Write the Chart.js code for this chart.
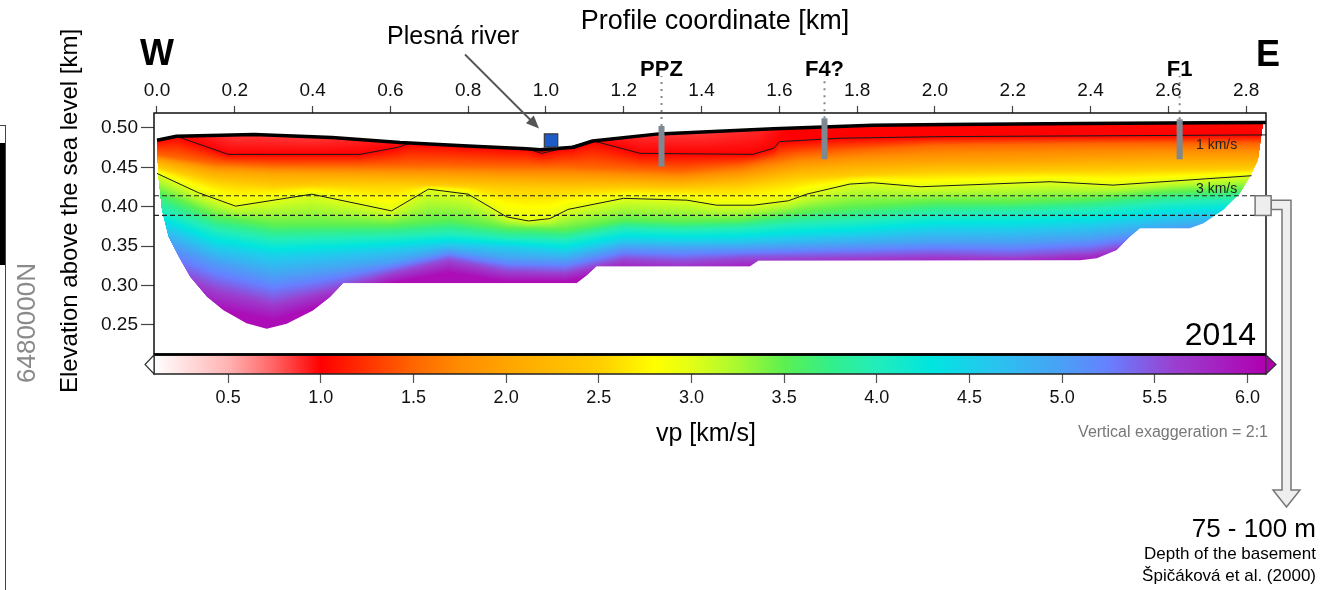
<!DOCTYPE html>
<html>
<head>
<meta charset="utf-8">
<script src="https://cdn.jsdelivr.net/npm/chart.js@4.4.1/dist/chart.umd.min.js"></script>
<style>
  html, body { margin: 0; padding: 0; background: #fff; }
  #wrap { position: relative; width: 1322px; height: 590px; }
  #wrap canvas { position: absolute; left: 0; top: 0; }
</style>
</head>
<body>
<div id="wrap">
  <canvas id="section" width="1322" height="590"></canvas>
  <canvas id="scale" width="1322" height="590"></canvas>
</div>
<script>
// === axes ===
const xTicks = [0.0, 0.2, 0.4, 0.6, 0.8, 1.0, 1.2, 1.4, 1.6, 1.8, 2.0, 2.2, 2.4, 2.6, 2.8];
const yTicks = [0.25, 0.30, 0.35, 0.40, 0.45, 0.50];
const vpTicks = [0.5, 1.0, 1.5, 2.0, 2.5, 3.0, 3.5, 4.0, 4.5, 5.0, 5.5, 6.0];
const vpRange = [0.1, 6.1];

// === topography and model outline (km, km a.s.l.) ===
const surfaceX = [0, 0.05, 0.25, 0.45, 0.625, 0.8, 0.95, 0.985, 1.07, 1.12, 1.29, 1.585, 1.84, 2.03, 2.38, 2.7, 2.851];
const surfaceY = [0.4845, 0.4895, 0.4918, 0.488, 0.4815, 0.4772, 0.4735, 0.4725, 0.4755, 0.4835, 0.4925, 0.499, 0.5035, 0.5045, 0.5058, 0.5065, 0.507];
const surfaceVelX = [0, 0.06, 0.2, 0.4, 0.6, 1.12, 1.25, 1.4, 1.55, 1.62, 2.851];
const surfaceVel = [1.05, 1.0, 0.85, 0.85, 0.95, 1.0, 0.88, 0.85, 0.9, 1.0, 1.05];

const bottomX = [0, 0.001, 0.003, 0.012, 0.029, 0.055, 0.085, 0.128, 0.17, 0.23, 0.282, 0.333, 0.401, 0.445, 0.479,
  1.079, 1.105, 1.13, 1.524, 1.546, 2.373, 2.416, 2.467, 2.501, 2.527, 2.655, 2.69, 2.741, 2.784, 2.81, 2.831, 2.844];
const bottomY = [0.484, 0.458, 0.438, 0.396, 0.362, 0.337, 0.311, 0.2859, 0.269, 0.2522, 0.2452, 0.2515, 0.2684, 0.2854, 0.3032,
  0.3032, 0.313, 0.3244, 0.3244, 0.3316, 0.3322, 0.3347, 0.345, 0.362, 0.3727, 0.3727, 0.379, 0.396, 0.417, 0.438, 0.4594, 0.506];

// === contours drawn on the section ===
const contour1X = [0.05, 0.183, 0.522, 0.62, 0.65, 0.95, 0.989, 1.044, 1.122, 1.242, 1.532, 1.585, 1.601, 1.756, 2.013, 2.851];
const contour1Y = [0.4895, 0.4665, 0.4665, 0.4755, 0.4808, 0.4738, 0.4678, 0.4742, 0.4835, 0.4678, 0.4665, 0.4743, 0.4827, 0.487, 0.489, 0.4912];
const contour3X = [0.0, 0.106, 0.202, 0.398, 0.603, 0.698, 0.80, 0.899, 0.955, 1.01, 1.057, 1.199, 1.362, 1.439, 1.533,
  1.623, 1.67, 1.781, 1.84, 1.962, 2.296, 2.458, 2.814];
const contour3Y = [0.4423, 0.418, 0.4008, 0.416, 0.3948, 0.4224, 0.416, 0.3872, 0.382, 0.385, 0.3967, 0.4107, 0.4084, 0.402, 0.402,
  0.4076, 0.416, 0.4288, 0.4305, 0.4254, 0.4318, 0.4275, 0.4394];

// === velocity isolines of the colour field (elevation where vp reaches the level) ===
const fieldX = [0, 0.15, 0.3, 0.45, 0.6, 0.75, 0.9, 1.05, 1.2, 1.35, 1.5, 1.65, 1.8, 2.0, 2.2, 2.4, 2.6, 2.85];
const vp15 = [0.466, 0.455, 0.452, 0.452, 0.452, 0.452, 0.451, 0.451, 0.448, 0.445, 0.452, 0.466, 0.472, 0.478, 0.479, 0.480, 0.480, 0.480];
const vp20 = [0.459, 0.445, 0.442, 0.441, 0.440, 0.439, 0.437, 0.436, 0.435, 0.433, 0.438, 0.450, 0.455, 0.457, 0.458, 0.460, 0.462, 0.462];
const vp25 = [0.450, 0.432, 0.426, 0.428, 0.428, 0.427, 0.424, 0.423, 0.424, 0.423, 0.426, 0.436, 0.440, 0.444, 0.445, 0.446, 0.447, 0.448];
const vp35 = [0.420, 0.388, 0.377, 0.377, 0.377, 0.383, 0.373, 0.371, 0.383, 0.381, 0.383, 0.393, 0.400, 0.406, 0.406, 0.410, 0.419, 0.423];
const vp40 = [0.398, 0.370, 0.358, 0.360, 0.362, 0.366, 0.360, 0.358, 0.372, 0.370, 0.372, 0.378, 0.382, 0.390, 0.392, 0.396, 0.405, 0.410];
const vp45 = [0.380, 0.350, 0.338, 0.342, 0.347, 0.353, 0.350, 0.344, 0.358, 0.357, 0.358, 0.362, 0.365, 0.372, 0.373, 0.378, 0.388, 0.395];
const vp50 = [0.360, 0.330, 0.312, 0.320, 0.330, 0.344, 0.334, 0.332, 0.348, 0.347, 0.348, 0.350, 0.352, 0.355, 0.355, 0.360, 0.372, 0.380];
const vp55 = [0.330, 0.300, 0.282, 0.298, 0.317, 0.334, 0.320, 0.318, 0.335, 0.332, 0.336, 0.337, 0.338, 0.340, 0.338, 0.343, 0.360, 0.365];
const vp60 = [0.300, 0.270, 0.256, 0.278, 0.303, 0.316, 0.305, 0.305, 0.318, 0.312, 0.318, 0.320, 0.322, 0.325, 0.325, 0.330, 0.345, 0.350];

// === annotations ===
const faultNames = ['PPZ', 'F4?', 'F1'];
const faultX = [1.297, 1.716, 2.629];
const faultTop = [0.5025, 0.5123, 0.511];
const faultBase = [0.4508, 0.4602, 0.4602];
const faultDotTop = 0.566;
const riverX = 1.013;
const riverY = 0.4841;
const basementY = [0.414, 0.389]; // 75 - 100 m below surface
const basementEndX = 2.823;

// colour scale (vp km/s -> colour)
const cmapVel = [0.1, 0.5, 0.75, 1.0, 1.25, 1.5, 1.75, 2.0, 2.25, 2.5, 2.8, 3.0, 3.25, 3.5, 3.75, 4.0, 4.3, 4.6, 5.0, 5.25, 5.6, 6.1];
const cmapHex = ['#ffffff', '#ffb3b3', '#ff6262', '#ff0000', '#ff3300', '#ff6600', '#ff8c00', '#ffa500', '#ffb900', '#ffcd00',
  '#ffff00', '#e2ff16', '#a8f930', '#5cf050', '#33ef8a', '#22edba', '#00e5e0', '#25c7ee', '#4aa0f5', '#6680ff', '#9a40d0', '#b000b0'];

const FONT = '"Liberation Sans", Arial, Helvetica, sans-serif';
Chart.defaults.font.family = FONT;

const cmapRgb = cmapHex.map(h => [parseInt(h.slice(1, 3), 16), parseInt(h.slice(3, 5), 16), parseInt(h.slice(5, 7), 16)]);

function interp(xs, ys, v) {
  const n = xs.length - 1;
  if (v <= xs[0]) return ys[0];
  if (v >= xs[n]) return ys[n];
  let i = 1;
  while (xs[i] < v) i++;
  const t = (v - xs[i - 1]) / (xs[i] - xs[i - 1]);
  return ys[i - 1] + t * (ys[i] - ys[i - 1]);
}

function colorFor(v) {
  const n = cmapVel.length - 1;
  if (v <= cmapVel[0]) return cmapRgb[0];
  if (v >= cmapVel[n]) return cmapRgb[n];
  let i = 1;
  while (cmapVel[i] < v) i++;
  const t = (v - cmapVel[i - 1]) / (cmapVel[i] - cmapVel[i - 1]);
  const a = cmapRgb[i - 1], b = cmapRgb[i];
  return [a[0] + t * (b[0] - a[0]), a[1] + t * (b[1] - a[1]), a[2] + t * (b[2] - a[2])];
}

const pts = (xs, ys) => xs.map((v, i) => ({ x: v, y: ys[i] }));

function txt(ctx, s, x, y, font, opt = {}) {
  ctx.save();
  ctx.font = font;
  ctx.fillStyle = opt.color || '#000';
  ctx.textAlign = opt.align || 'center';
  ctx.textBaseline = opt.base || 'alphabetic';
  ctx.translate(x, y);
  if (opt.rot) ctx.rotate(opt.rot);
  ctx.fillText(s, 0, 0);
  ctx.restore();
}

// ---- colour field, painted column by column from the isolines ----
const isolines = [
  [contour1X, contour1Y, 1.0], [fieldX, vp15, 1.5], [fieldX, vp20, 2.0], [fieldX, vp25, 2.5],
  [contour3X, contour3Y, 3.0], [fieldX, vp35, 3.5], [fieldX, vp40, 4.0], [fieldX, vp45, 4.5],
  [fieldX, vp50, 5.0], [fieldX, vp55, 5.5], [fieldX, vp60, 6.0]
];

const fieldPlugin = {
  id: 'field',
  beforeDatasetsDraw(chart) {
    const { ctx, chartArea: a, scales: { x, y } } = chart;
    const w = Math.round(a.right - a.left), h = Math.round(a.bottom - a.top);
    const off = document.createElement('canvas');
    off.width = w; off.height = h;
    const octx = off.getContext('2d');
    const img = octx.createImageData(w, h);
    for (let i = 0; i < w; i++) {
      const xv = x.getValueForPixel(a.left + i + 0.5);
      if (xv < bottomX[0] || xv > bottomX[bottomX.length - 1]) continue;
      const top = interp(surfaceX, surfaceY, xv);
      const bot = interp(bottomX, bottomY, xv);
      if (bot >= top) continue;
      const prof = [[top, interp(surfaceVelX, surfaceVel, xv)]];
      for (const [ax, ay, v] of isolines) {
        let e = interp(ax, ay, xv);
        const last = prof[prof.length - 1][0];
        if (e > last - 1e-5) e = last - 1e-5;
        prof.push([e, v]);
      }
      const yTop = y.getPixelForValue(top), yBot = y.getPixelForValue(bot);
      for (let py = Math.floor(yTop); py < Math.ceil(yBot); py++) {
        const j = py - Math.round(a.top);
        if (j < 0 || j >= h) continue;
        let cover = 1;
        if (py + 1 > yBot) cover = yBot - py;
        if (py < yTop) cover = Math.min(cover, py + 1 - yTop);
        const ev = y.getValueForPixel(py + 0.5);
        let vel = prof[prof.length - 1][1];
        if (ev >= prof[0][0]) vel = prof[0][1];
        else {
          for (let k = 1; k < prof.length; k++) {
            if (ev >= prof[k][0]) {
              const t = (prof[k - 1][0] - ev) / (prof[k - 1][0] - prof[k][0]);
              vel = prof[k - 1][1] + t * (prof[k][1] - prof[k - 1][1]);
              break;
            }
          }
        }
        const c = colorFor(vel);
        const idx = (j * w + i) * 4;
        img.data[idx] = c[0]; img.data[idx + 1] = c[1]; img.data[idx + 2] = c[2];
        img.data[idx + 3] = Math.round(255 * Math.max(0, Math.min(1, cover)));
      }
    }
    octx.putImageData(img, 0, 0);
    ctx.drawImage(off, Math.round(a.left), Math.round(a.top));
  }
};

// ---- frame, labels and the other notes ----
const notesPlugin = {
  id: 'notes',
  afterDraw(chart) {
    const { ctx, chartArea: a, scales: { x, y } } = chart;
    ctx.save();
    ctx.strokeStyle = '#111';
    ctx.lineWidth = 1.5;
    ctx.strokeRect(a.left, a.top, a.right - a.left, a.bottom - a.top);

    txt(ctx, 'Profile coordinate [km]', 715, 29, '27px ' + FONT);
    txt(ctx, 'Elevation above the sea level [km]', 70, 211, '24px ' + FONT, { base: 'middle', rot: -Math.PI / 2 });
    txt(ctx, 'W', 157, 65, 'bold 36px ' + FONT);
    txt(ctx, 'E', 1268, 66, 'bold 36px ' + FONT);

    faultNames.forEach((n, i) => txt(ctx, n, x.getPixelForValue(faultX[i]), 76, 'bold 22px ' + FONT));

    // Plesná river + arrow
    const rx = x.getPixelForValue(riverX), ry = y.getPixelForValue(riverY);
    txt(ctx, 'Plesná river', 453, 44, '25px ' + FONT);
    const sx = rx - 86, sy = ry - 86, ex = rx - 12, ey = ry - 12;
    ctx.strokeStyle = '#555';
    ctx.fillStyle = '#555';
    ctx.lineWidth = 1.8;
    ctx.beginPath(); ctx.moveTo(sx, sy); ctx.lineTo(ex - 8, ey - 8); ctx.stroke();
    const ux = Math.SQRT1_2, uy = Math.SQRT1_2;
    ctx.beginPath();
    ctx.moveTo(ex, ey);
    ctx.lineTo(ex - 13 * ux + 5.5 * uy, ey - 13 * uy - 5.5 * ux);
    ctx.lineTo(ex - 13 * ux - 5.5 * uy, ey - 13 * uy + 5.5 * ux);
    ctx.closePath(); ctx.fill();

    txt(ctx, '1 km/s', 1196, 149, '14px ' + FONT, { align: 'left', color: '#222' });
    txt(ctx, '3 km/s', 1196, 193, '14px ' + FONT, { align: 'left', color: '#222' });
    txt(ctx, '2014', 1256, 345, '32px ' + FONT, { align: 'right' });

    // basement box and hollow arrow
    const bx = x.getPixelForValue(basementEndX);
    const b1 = y.getPixelForValue(basementY[0]), b2 = y.getPixelForValue(basementY[1]);
    ctx.fillStyle = '#eeeeee';
    ctx.strokeStyle = '#777';
    ctx.lineWidth = 1.5;
    ctx.beginPath();
    ctx.moveTo(bx + 16, b1 + 4.5);
    ctx.lineTo(1291, b1 + 4.5);
    ctx.lineTo(1291, 490);
    ctx.lineTo(1300, 490);
    ctx.lineTo(1286.5, 507);
    ctx.lineTo(1273, 490);
    ctx.lineTo(1282, 490);
    ctx.lineTo(1282, b2 - 6);
    ctx.lineTo(bx + 16, b2 - 6);
    ctx.closePath();
    ctx.fill(); ctx.stroke();
    ctx.fillRect(bx, b1, 16, b2 - b1);
    ctx.strokeRect(bx, b1, 16, b2 - b1);

    txt(ctx, '75 - 100 m', 1316, 537, '26px ' + FONT, { align: 'right' });
    txt(ctx, 'Depth of the basement', 1316, 559, '17px ' + FONT, { align: 'right' });
    txt(ctx, 'Špičáková et al. (2000)', 1316, 581, '17px ' + FONT, { align: 'right' });

    // map strip on the left edge
    ctx.strokeStyle = '#444';
    ctx.lineWidth = 1;
    ctx.beginPath(); ctx.moveTo(5.5, 125); ctx.lineTo(5.5, 590); ctx.moveTo(0, 125.5); ctx.lineTo(6, 125.5); ctx.stroke();
    ctx.fillStyle = '#000';
    ctx.fillRect(0, 143, 5, 122);
    txt(ctx, '6480000N', 28, 323, '26px ' + FONT, { base: 'middle', rot: -Math.PI / 2, color: '#8a8a8a' });
    ctx.restore();
  }
};

const faultBars = faultX.map((fx, i) => ({
  data: [{ x: fx, y: faultTop[i] }, { x: fx, y: faultBase[i] }],
  showLine: true, borderColor: '#7d8891', borderWidth: 6, borderCapStyle: 'butt', pointRadius: 0
}));
const faultDots = faultX.map((fx, i) => ({
  data: [{ x: fx, y: faultTop[i] }, { x: fx, y: faultDotTop }],
  showLine: true, borderColor: '#7d8891', borderWidth: 2, borderDash: [2, 5], pointRadius: 0, clip: false
}));

new Chart(document.getElementById('section'), {
  type: 'scatter',
  data: {
    datasets: [
      { data: [{ x: riverX, y: riverY }], pointStyle: 'rect', pointRadius: 9.5,
        backgroundColor: '#1f5bc6', borderColor: '#3a3a3a', borderWidth: 1.2 },
      ...faultBars,
      ...faultDots,
      { data: pts(surfaceX, surfaceY), showLine: true, borderColor: '#000', borderWidth: 3.5,
        borderJoinStyle: 'round', pointRadius: 0 },
      { data: pts(contour1X, contour1Y), showLine: true, borderColor: '#1a1a1a', borderWidth: 1, pointRadius: 0 },
      { data: pts(contour3X, contour3Y), showLine: true, borderColor: '#1a1a1a', borderWidth: 1, pointRadius: 0 },
      ...basementY.map(b => ({
        data: [{ x: -0.0077, y: b }, { x: basementEndX, y: b }],
        showLine: true, borderColor: '#222', borderWidth: 1.2, borderDash: [5, 3], pointRadius: 0
      }))
    ]
  },
  options: {
    responsive: false,
    animation: false,
    events: [],
    layout: { padding: { left: 0, top: 0, right: 56, bottom: 236 } },
    plugins: { legend: { display: false }, tooltip: { enabled: false } },
    scales: {
      x: {
        type: 'linear', position: 'top', min: -0.0077, max: 2.851,
        afterBuildTicks: s => { s.ticks = xTicks.map(v => ({ value: v })); },
        afterFit: s => { s.height = 113; },
        grid: { drawOnChartArea: false, tickLength: 7, color: '#444', tickWidth: 1.2 },
        border: { display: false },
        ticks: { padding: 4, color: '#111', font: { size: 19 }, maxRotation: 0, autoSkip: false,
          callback: v => v.toFixed(1) }
      },
      y: {
        type: 'linear', min: 0.2132, max: 0.519,
        afterBuildTicks: s => { s.ticks = yTicks.map(v => ({ value: v })); },
        afterFit: s => { s.width = 154; },
        grid: { drawOnChartArea: false, tickLength: 13, color: '#444', tickWidth: 1.2 },
        border: { display: false },
        ticks: { padding: 3, color: '#111', font: { size: 19 }, autoSkip: false,
          callback: v => v.toFixed(2) }
      }
    }
  },
  plugins: [fieldPlugin, notesPlugin]
});

// ---- colour bar ----
const barPlugin = {
  id: 'barNotes',
  afterDraw(chart) {
    const { ctx, chartArea: a } = chart;
    const mid = (a.top + a.bottom) / 2;
    ctx.save();
    ctx.strokeStyle = '#222';
    ctx.lineWidth = 1.5;
    ctx.strokeRect(a.left, a.top, a.right - a.left, a.bottom - a.top);
    ctx.lineWidth = 2.5;
    ctx.strokeStyle = '#000';
    ctx.beginPath(); ctx.moveTo(a.left, a.top - 0.5); ctx.lineTo(a.right, a.top - 0.5); ctx.stroke();
    ctx.lineWidth = 1.2;
    ctx.strokeStyle = '#333';
    ctx.fillStyle = cmapHex[0];
    ctx.beginPath(); ctx.moveTo(a.left, a.top); ctx.lineTo(a.left - 9, mid); ctx.lineTo(a.left, a.bottom); ctx.closePath();
    ctx.fill(); ctx.stroke();
    ctx.fillStyle = cmapHex[cmapHex.length - 1];
    ctx.beginPath(); ctx.moveTo(a.right, a.top); ctx.lineTo(a.right + 10, mid); ctx.lineTo(a.right, a.bottom); ctx.closePath();
    ctx.fill(); ctx.stroke();
    txt(ctx, 'vp [km/s]', 706, 441, '25px ' + FONT);
    txt(ctx, 'Vertical exaggeration = 2:1', 1268, 437, '16px ' + FONT, { align: 'right', color: '#777' });
    ctx.restore();
  }
};

new Chart(document.getElementById('scale'), {
  type: 'bar',
  data: {
    labels: ['vp'],
    datasets: [{
      data: [vpRange],
      backgroundColor: c => {
        const ch = c.chart;
        if (!ch.chartArea) return '#fff';
        const xs = ch.scales.x;
        const x0 = xs.getPixelForValue(cmapVel[0]), x1 = xs.getPixelForValue(cmapVel[cmapVel.length - 1]);
        const g = ch.ctx.createLinearGradient(x0, 0, x1, 0);
        cmapVel.forEach((v, i) => g.addColorStop((v - cmapVel[0]) / (cmapVel[cmapVel.length - 1] - cmapVel[0]), cmapHex[i]));
        return g;
      },
      barPercentage: 1, categoryPercentage: 1, borderWidth: 0
    }]
  },
  options: {
    indexAxis: 'y',
    responsive: false,
    animation: false,
    events: [],
    layout: { padding: { left: 154, right: 56, top: 355, bottom: 176 } },
    plugins: { legend: { display: false }, tooltip: { enabled: false } },
    scales: {
      x: {
        type: 'linear', position: 'bottom', min: vpRange[0], max: vpRange[1],
        afterBuildTicks: s => { s.ticks = vpTicks.map(v => ({ value: v })); },
        afterFit: s => { s.height = 40; },
        grid: { drawOnChartArea: false, tickLength: 9, color: '#555', tickWidth: 1.2 },
        border: { display: false },
        ticks: { padding: 4, color: '#111', font: { size: 18 }, maxRotation: 0, autoSkip: false,
          callback: v => v.toFixed(1) }
      },
      y: { display: false }
    }
  },
  plugins: [barPlugin]
});
</script>
</body>
</html>
